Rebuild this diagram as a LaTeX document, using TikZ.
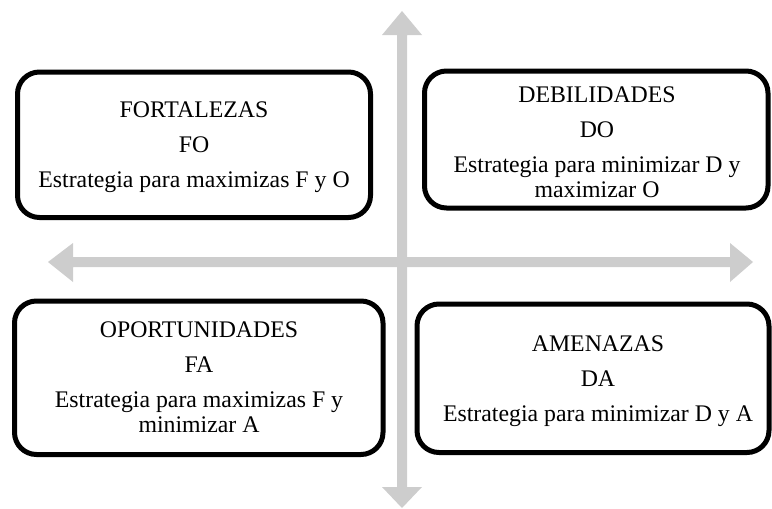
\documentclass[tikz,border=0pt]{standalone}
\usepackage{fontspec}
\setmainfont{Liberation Serif}
\definecolor{axisgray}{RGB}{205,205,205}
\begin{document}
\begin{tikzpicture}[x=1pt,y=-1pt,
  quadbox/.style={draw=black, fill=white, line width=5pt, rounded corners=22pt,
    rectangle, inner sep=0pt},
  quadtext/.style={inner sep=0pt, align=center, font=\fontsize{23.8}{25}\selectfont},
  axisshape/.style={fill=axisgray, draw=none}]
\useasboundingbox (0,0) rectangle (772,509);
% axes
\fill[axisshape] (397,35) -- (382,35) -- (402,11) -- (422,35) -- (407,35)
  -- (407,487) -- (422,487) -- (402,508) -- (382,487) -- (397,487) -- cycle;
\fill[axisshape] (73,257) -- (73,243) -- (48,262) -- (73,282) -- (73,267)
  -- (730,267) -- (730,282) -- (753,262) -- (730,243) -- (730,257) -- cycle;
% boxes
\node[quadbox, minimum width=353pt, minimum height=145.5pt] (fo) at (194,144.75) {};
\node[quadbox, minimum width=343.5pt, minimum height=137pt] (do) at (596.25,139.5) {};
\node[quadbox, minimum width=368.5pt, minimum height=153.5pt] (fa) at (198.75,377.75) {};
\node[quadbox, minimum width=352pt, minimum height=148.5pt] (da) at (593,378.25) {};
% texts
\node[quadtext] (fot) at (194,147) {FORTALEZAS\\[10pt]FO\\[10pt]Estrategia para maximizas F y O};
\node[quadtext] (dot) at (597,142) {DEBILIDADES\\[10pt]DO\\[10pt]Estrategia para minimizar D y\\maximizar O};
\node[quadtext] (fat) at (199,377.5) {OPORTUNIDADES\\[10pt]FA\\[10pt]Estrategia para maximizas F y\\minimizar A};
\node[quadtext] (dat) at (598,381) {AMENAZAS\\[10pt]DA\\[10pt]Estrategia para minimizar D y A};
\end{tikzpicture}
\end{document}
